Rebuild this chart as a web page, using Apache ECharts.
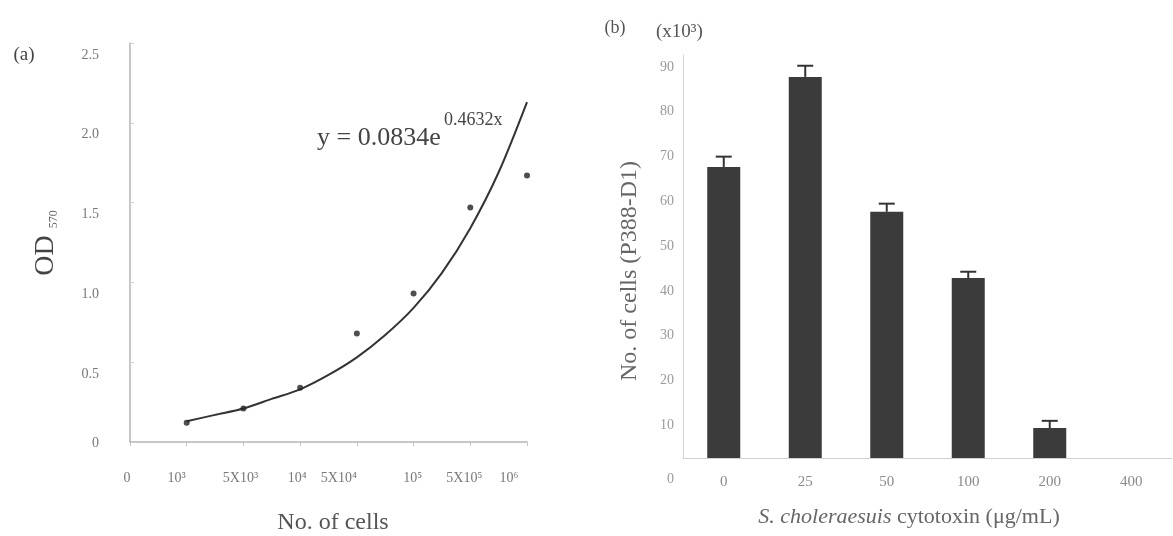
<!DOCTYPE html>
<html>
<head>
<meta charset="utf-8">
<script src="https://cdn.jsdelivr.net/npm/echarts@6/dist/echarts.min.js"></script>
<style>
html,body{margin:0;padding:0;background:#fff;}
#c{width:1173px;height:536px;}
</style>
</head>
<body>
<div id="c"></div>
<script>
// ---------- data: panel (a) ----------
const cellTickLabels = ['0', '10³', '5X10³', '10⁴', '5X10⁴', '10⁵', '5X10⁵', '10⁶'];
const pointX = [1, 2, 3, 4, 5, 6, 7];
const odValues = [0.12, 0.21, 0.34, 0.68, 0.93, 1.47, 1.67];
const fitX = [1, 1.5, 2, 2.5, 3, 3.5, 4, 4.5, 5, 5.5, 6, 6.5, 7];
const fitY = [0.13, 0.17, 0.21, 0.27, 0.33, 0.42, 0.53, 0.67, 0.84, 1.06, 1.34, 1.69, 2.13];
const odTickLabels = ['0', '0.5', '1.0', '1.5', '2.0', '2.5'];

// ---------- data: panel (b) ----------
const doseCategories = ['0', '25', '50', '100', '200', '400'];
const cellCounts = [65.0, 85.1, 55.0, 40.2, 6.7, 0];
const cellErrors = [2.3, 2.5, 1.8, 1.4, 1.6, 0];
const countTickLabels = ['0', '10', '20', '30', '40', '50', '60', '70', '80', '90'];

// ---------- style: horizontal nudges of the hand-placed tick labels in (a) ----------
const cellLabelNudge = [3, 10, 3, 3, 18, 1, 6, 18];

const serif = '"Liberation Serif", "DejaVu Serif", serif';

const cellRich = {};
cellLabelNudge.forEach((s, i) => {
  cellRich['l' + i] = {padding: [0, 2 * s, 0, 0], fontSize: 14, color: '#777', fontFamily: serif};
});

const chart = echarts.init(document.getElementById('c'), null, {renderer: 'canvas'});

const option = {
  backgroundColor: '#fff',
  animation: false,
  textStyle: {fontFamily: serif},
  grid: [
    {left: 130, top: 43, width: 397, height: 399},
    {left: 683, top: 55, width: 489, height: 403}
  ],
  xAxis: [
    {
      gridIndex: 0, type: 'value', min: 0, max: 7, interval: 1,
      axisLine: {show: true, lineStyle: {color: '#b5b5b5', width: 1.5}},
      axisTick: {show: true, length: 4, lineStyle: {color: '#c4c4c4'}},
      splitLine: {show: false},
      axisLabel: {
        margin: 29, fontSize: 14, color: '#777', fontFamily: serif,
        formatter: (v) => {
          const i = Math.round(v);
          return '{l' + i + '|' + cellTickLabels[i] + '}';
        },
        rich: cellRich
      }
    },
    {
      gridIndex: 1, type: 'category', data: doseCategories, boundaryGap: true,
      axisLine: {show: true, lineStyle: {color: '#cfcfcf', width: 1}},
      axisTick: {show: false},
      axisLabel: {margin: 17, fontSize: 15, color: '#8a8a8a', fontFamily: serif}
    }
  ],
  yAxis: [
    {
      gridIndex: 0, type: 'value', min: 0, max: 2.5, interval: 0.5,
      axisLine: {show: true, lineStyle: {color: '#b5b5b5', width: 1.5}},
      axisTick: {show: true, inside: true, length: 4, lineStyle: {color: '#d0d0d0'}},
      splitLine: {show: false},
      axisLabel: {
        margin: 31, fontSize: 14, color: '#777', fontFamily: serif,
        formatter: (v) => {
          const t = odTickLabels[Math.round(v / 0.5)];
          return v === 0 ? '{z|' + t + '}' : '{n|' + t + '}';
        },
        rich: {
          n: {padding: [24, 0, 0, 0], fontSize: 14, color: '#777', fontFamily: serif},
          z: {padding: [2, 0, 0, 0], fontSize: 14, color: '#777', fontFamily: serif}
        }
      }
    },
    {
      gridIndex: 1, type: 'value', min: 0, max: 90, interval: 10,
      axisLine: {show: true, lineStyle: {color: '#d6d6d6', width: 1}},
      axisTick: {show: false},
      splitLine: {show: false},
      axisLabel: {
        margin: 9, fontSize: 14, color: '#9a9a9a', fontFamily: serif,
        formatter: (v) => {
          const t = countTickLabels[Math.round(v / 10)];
          return v === 0 ? '{z|' + t + '}' : '{n|' + t + '}';
        },
        rich: {
          n: {padding: [24, 0, 0, 0], fontSize: 14, color: '#9a9a9a', fontFamily: serif},
          z: {padding: [42, 0, 0, 0], fontSize: 14, color: '#9a9a9a', fontFamily: serif}
        }
      }
    }
  ],
  series: [
    {
      name: 'fit', type: 'line', xAxisIndex: 0, yAxisIndex: 0,
      data: fitX.map((x, i) => [x, fitY[i]]),
      smooth: 0.3, showSymbol: false, symbol: 'none',
      lineStyle: {color: '#333', width: 2}, z: 2
    },
    {
      name: 'OD', type: 'scatter', xAxisIndex: 0, yAxisIndex: 0,
      data: pointX.map((x, i) => [x, odValues[i]]),
      symbolSize: 6, itemStyle: {color: '#222'}, z: 3
    },
    {
      name: 'cells', type: 'bar', xAxisIndex: 1, yAxisIndex: 1,
      data: cellCounts, barWidth: 33,
      itemStyle: {color: '#3b3b3b'}
    },
    {
      name: 'err', type: 'custom', xAxisIndex: 1, yAxisIndex: 1,
      data: cellCounts.map((v, i) => [i, v, v + cellErrors[i]]),
      renderItem: function (params, api) {
        const idx = api.value(0);
        const base = api.coord([idx, api.value(1)]);
        const top = api.coord([idx, api.value(2)]);
        if (Math.abs(base[1] - top[1]) < 0.5) return null;
        const half = 8;
        const st = {stroke: '#333', lineWidth: 2};
        return {
          type: 'group',
          children: [
            {type: 'line', shape: {x1: base[0], y1: base[1], x2: top[0], y2: top[1]}, style: st},
            {type: 'line', shape: {x1: top[0] - half, y1: top[1], x2: top[0] + half, y2: top[1]}, style: st}
          ]
        };
      },
      z: 4
    }
  ],
  graphic: [
    {type: 'text', x: 24, y: 55, style: {text: '(a)', fontSize: 19, fontFamily: serif, fill: '#444', align: 'center', verticalAlign: 'middle'}},
    {type: 'text', x: 317, y: 138, style: {text: 'y = 0.0834e', fontSize: 26, fontFamily: serif, fill: '#444', align: 'left', verticalAlign: 'middle'}},
    {type: 'text', x: 444, y: 120, style: {text: '0.4632x', fontSize: 18, fontFamily: serif, fill: '#444', align: 'left', verticalAlign: 'middle'}},
    {type: 'text', x: 46, y: 243, rotation: Math.PI / 2,
      style: {
        text: '{a|OD}{b|570}', align: 'center', verticalAlign: 'middle',
        rich: {
          a: {fontSize: 28, fontFamily: serif, fill: '#444', color: '#444'},
          b: {fontSize: 12, fontFamily: serif, fill: '#666', color: '#666', verticalAlign: 'bottom', padding: [0, 0, 0, 7]}
        }
      }
    },
    {type: 'text', x: 333, y: 523, style: {text: 'No. of cells', fontSize: 24, fontFamily: serif, fill: '#555', align: 'center', verticalAlign: 'middle'}},
    {type: 'text', x: 615, y: 28, style: {text: '(b)', fontSize: 18, fontFamily: serif, fill: '#555', align: 'center', verticalAlign: 'middle'}},
    {type: 'text', x: 656, y: 32, style: {text: '(x10³)', fontSize: 19, fontFamily: serif, fill: '#555', align: 'left', verticalAlign: 'middle'}},
    {type: 'text', x: 630, y: 271, rotation: Math.PI / 2,
      style: {text: 'No. of cells (P388-D1)', fontSize: 24, fontFamily: serif, fill: '#666', align: 'center', verticalAlign: 'middle'}},
    {type: 'text', x: 909, y: 517,
      style: {
        text: '{i|S. choleraesuis} cytotoxin (μg/mL)', fontSize: 22, fontFamily: serif, fill: '#666', align: 'center', verticalAlign: 'middle',
        rich: {i: {fontStyle: 'italic', fontSize: 22, fontFamily: serif, fill: '#666', color: '#666'}}
      }
    }
  ]
};
chart.setOption(option);
</script>
</body>
</html>
